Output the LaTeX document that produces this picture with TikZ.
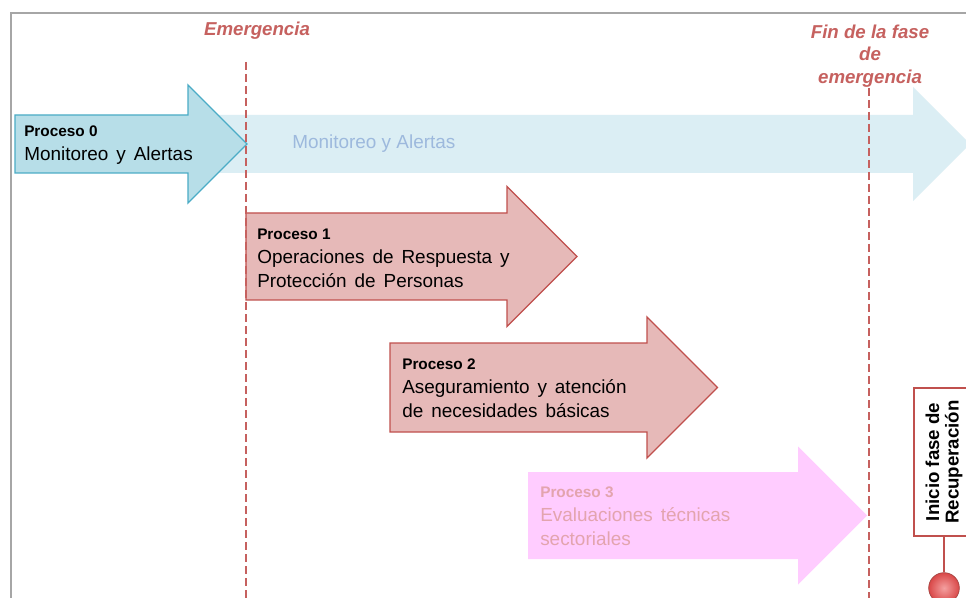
\documentclass[tikz,border=0pt]{standalone}
\usepackage{fontspec}
\setmainfont{Liberation Sans}
\usetikzlibrary{positioning,calc}
\definecolor{rojo}{HTML}{C0504D}
\definecolor{rosa}{HTML}{E6B9B8}
\definecolor{celeste}{HTML}{B7DEE8}
\definecolor{celesteborde}{HTML}{4BACC6}
\definecolor{celestepalido}{HTML}{DBEEF4}
\definecolor{lila}{HTML}{FFCCFF}
\definecolor{lilatexto}{HTML}{E3A4AE}
\definecolor{azultexto}{HTML}{9DB9DD}
\definecolor{marco}{HTML}{A6A6A6}
\definecolor{bolaroja}{HTML}{D94848}
\definecolor{bolaclara}{HTML}{F4A0A0}

% flecha: estilo, x izq, y centro, medio cuerpo, x base punta, media punta
\newcommand\flecha[6]{%
  \path[#1] (#2,#3-#4) -- (#5,#3-#4) -- (#5,#3-#6) -- ({#5+#6},#3)
    -- (#5,#3+#6) -- (#5,#3+#4) -- (#2,#3+#4) -- cycle;}
\newcommand\espacios{\spaceskip=0.42em\relax}
\newcommand\titulo[1]{\textbf{\fontsize{11.5}{18}\selectfont\spaceskip=0pt\relax #1}}

\begin{document}
\begin{tikzpicture}[x=0.75pt,y=-0.75pt,
  hito/.style={rojo!90, line width=1.5pt, dash pattern=on 6pt off 3pt},
  hitotexto/.style={text=rojo!90, font=\fontsize{14}{17}\selectfont\bfseries\itshape, align=center, inner sep=0pt},
  proc/.style={anchor=west, align=left, inner sep=0pt, font=\fontsize{14.2}{18}\selectfont\espacios},
  rojoflecha/.style={fill=rosa, draw=rojo, line width=1pt, line join=miter},
  celesteflecha/.style={fill=celeste, draw=celesteborde, line width=1pt, line join=miter}]
\useasboundingbox (0,0) rectangle (966,598);
\clip (0,0) rectangle (966,598);
\fill[white] (0,0) rectangle (966,598);
% marco
\draw[marco, line width=1.5pt] (11,600) -- (11,13) -- (970,13);

% flechas
\flecha{fill=celestepalido}{200}{144}{29}{913}{57}
\flecha{celesteflecha}{15}{144}{29}{188}{59}
\flecha{rojoflecha}{246}{256.5}{43.5}{507}{70}
\flecha{rojoflecha}{390}{387.5}{44.5}{647}{70.5}
\flecha{fill=lila}{528}{515.5}{43.5}{798}{69}

% textos
\node[proc] (p0) at (24,145) {\titulo{Proceso 0}\\Monitoreo\ y Alertas};
\node[proc, text=azultexto, font=\fontsize{14.2}{18}\selectfont] (p0b) at (292,144) {Monitoreo y Alertas};
\node[proc] (p1) at (257,258) {\titulo{Proceso 1}\\Operaciones de Respuesta y\\Protección de Personas};
\node[proc] (p2) at (402,388) {\titulo{Proceso 2}\\Aseguramiento y atención\\de necesidades básicas};
\node[proc, text=lilatexto] (p3) at (540,516) {\titulo{Proceso 3}\\Evaluaciones técnicas\\sectoriales};

% hitos
\node[hitotexto] (emerg) at (257,31) {Emergencia};
\node[hitotexto] (fin) at (870,56) {Fin de la fase\\de\\emergencia};
\coordinate (eTop) at (246,62);
\coordinate (eBot) at (246,600);
\coordinate (fTop) at (869,88);
\coordinate (fBot) at (869,600);
\draw[hito] (eTop) -- (eBot);
\draw[hito] (fTop) -- (fBot);

% recuperacion
\node[draw=rojo, line width=1pt, fill=white, rotate=90, minimum width=111pt, minimum height=45pt,
  align=center, font=\fontsize{14}{14.5}\selectfont\bfseries] (recup) at (944,462) {Inicio fase de\\Recuperación};
\node[circle, shading=radial, inner color=bolaclara, outer color=bolaroja, draw=rojo!85!black, line width=0.5pt,
  minimum size=23pt, inner sep=0pt] (bola) at (944,588) {};
\draw[rojo, line width=1.5pt] (recup.west) -- (bola.north);
\end{tikzpicture}
\end{document}
